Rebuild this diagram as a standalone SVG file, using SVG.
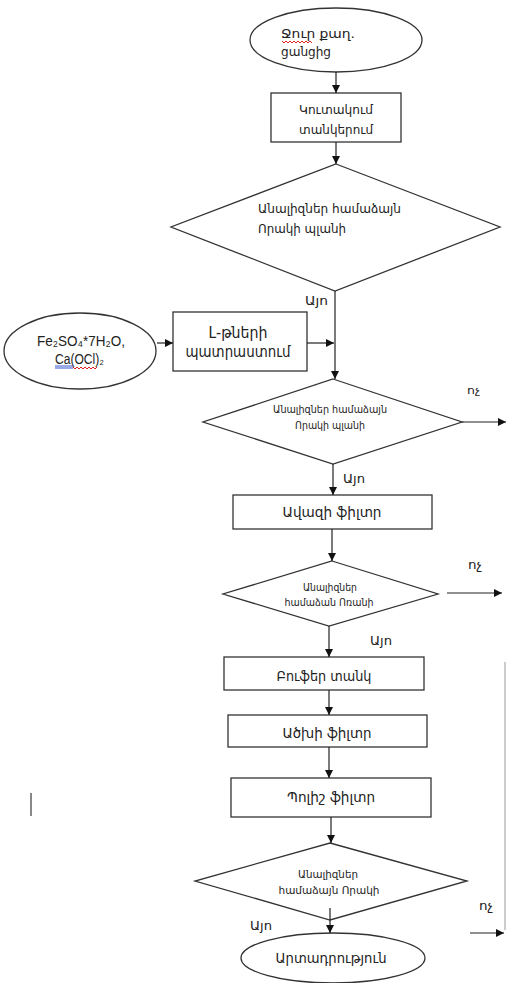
<svg xmlns="http://www.w3.org/2000/svg" width="506" height="983" viewBox="0 0 506 983">
<defs>
<marker id="ah" markerWidth="8" markerHeight="8" refX="8" refY="4" orient="auto" markerUnits="userSpaceOnUse">
<path d="M0,0 L8,4 L0,8 Z" fill="#111"/>
</marker>
<style>
.shape{fill:#fff;stroke:#333;stroke-width:1.3}
.conn{stroke:#222;stroke-width:1.2;fill:none}
.t{font-family:"DejaVu Sans","Noto Sans",sans-serif;fill:#222}
.l{font-family:"Liberation Sans",Arial,sans-serif;fill:#222}
.m{text-anchor:middle}
.sq{fill:none;stroke-width:1}
</style>
</defs>
<rect width="506" height="983" fill="#fff"/>

<g id="n-source">
<ellipse class="shape" cx="336" cy="40" rx="86" ry="32"/>
<text class="t" x="281" y="38" font-size="12.5" textLength="74" lengthAdjust="spacingAndGlyphs">Ջուր քաղ.</text>
<text class="t" x="281" y="56" font-size="12.5" textLength="50" lengthAdjust="spacingAndGlyphs">ցանցից</text>
<path class="sq" stroke="#d22" d="M282,41 l2,2 l2,-2 l2,2 l2,-2 l2,2 l2,-2 l2,2 l2,-2 l2,2 l2,-2 l2,2 l2,-2 l2,2 l2,-2 l2,2"/>
</g>

<g id="n-storage">
<rect class="shape" x="271" y="93" width="130" height="49"/>
<text class="t m" x="336" y="114" font-size="13" textLength="74" lengthAdjust="spacingAndGlyphs">Կուտակում</text>
<text class="t m" x="336" y="134" font-size="13" textLength="74" lengthAdjust="spacingAndGlyphs">տանկերում</text>
</g>

<g id="n-check1">
<polygon class="shape" points="336,164 500,227 335,291 171,227"/>
<text class="t" x="258" y="213" font-size="13" textLength="143" lengthAdjust="spacingAndGlyphs">Անալիզներ համաձայն</text>
<text class="t" x="258" y="233" font-size="13" textLength="88" lengthAdjust="spacingAndGlyphs">Որակի պլանի</text>
</g>

<g id="n-reagents">
<ellipse class="shape" cx="80" cy="351" rx="76" ry="38"/>
<text class="l m" x="81" y="346" font-size="15" textLength="88" lengthAdjust="spacingAndGlyphs">Fe₂SO₄*7H₂O,</text>
<text class="l" x="55" y="364" font-size="14" textLength="49" lengthAdjust="spacingAndGlyphs">Ca(OCl)₂</text>
<path class="sq" stroke="#35c" d="M55,366 H73 M55,368 H73"/>
<path class="sq" stroke="#d22" d="M73,367 l2,2 l2,-2 l2,2 l2,-2 l2,2 l2,-2 l2,2 l2,-2 l2,2 l2,-2 l2,2 l2,-2"/>
</g>

<g id="n-prep">
<rect class="shape" x="173" y="312" width="134" height="59"/>
<text class="t m" x="238" y="338" font-size="15" textLength="59" lengthAdjust="spacingAndGlyphs">Լ-թների</text>
<text class="t m" x="238" y="357" font-size="15" textLength="105" lengthAdjust="spacingAndGlyphs">պատրաստում</text>
</g>

<g id="n-check2">
<polygon class="shape" points="333,379 462,422 333,464 203,422"/>
<text class="t m" x="330" y="413" font-size="10.5" textLength="114" lengthAdjust="spacingAndGlyphs">Անալիզներ համաձայն</text>
<text class="t m" x="330" y="429" font-size="10.5" textLength="70" lengthAdjust="spacingAndGlyphs">Որակի պլանի</text>
</g>

<g id="n-sand">
<rect class="shape" x="233" y="495" width="199" height="34"/>
<text class="t m" x="332" y="517" font-size="14" textLength="99" lengthAdjust="spacingAndGlyphs">Ավազի ֆիլտր</text>
</g>

<g id="n-check3">
<polygon class="shape" points="332,561 438,594 329,626 223,594"/>
<text class="t m" x="330" y="591" font-size="10" textLength="54" lengthAdjust="spacingAndGlyphs">Անալիզներ</text>
<text class="t m" x="329" y="606" font-size="10" textLength="89" lengthAdjust="spacingAndGlyphs">համաձան Ոռանի</text>
</g>

<g id="n-buffer">
<rect class="shape" x="224" y="657" width="200" height="33"/>
<text class="t m" x="324" y="681" font-size="14" textLength="95" lengthAdjust="spacingAndGlyphs">Բուֆեր տանկ</text>
</g>

<g id="n-carbon">
<rect class="shape" x="228" y="715" width="199" height="32"/>
<text class="t m" x="327" y="738" font-size="14" textLength="89" lengthAdjust="spacingAndGlyphs">Ածխի ֆիլտր</text>
</g>

<g id="n-polish">
<rect class="shape" x="231" y="778" width="200" height="39"/>
<text class="t m" x="331" y="802" font-size="14" textLength="88" lengthAdjust="spacingAndGlyphs">Պոլիշ ֆիլտր</text>
</g>

<g id="n-check4">
<polygon class="shape" points="330,843 467,881 330,920 195,881"/>
<text class="t m" x="328" y="878" font-size="11" textLength="60" lengthAdjust="spacingAndGlyphs">Անալիզներ</text>
<text class="t m" x="329" y="894" font-size="11" textLength="101" lengthAdjust="spacingAndGlyphs">համաձայն Որակի</text>
</g>

<g id="n-output">
<ellipse class="shape" cx="333" cy="958" rx="92" ry="25"/>
<text class="t m" x="331" y="963" font-size="14" textLength="111" lengthAdjust="spacingAndGlyphs">Արտադրություն</text>
</g>

<g id="connectors">
<line class="conn" x1="336" y1="72" x2="336" y2="93" marker-end="url(#ah)"/>
<line class="conn" x1="336" y1="142" x2="336" y2="164" marker-end="url(#ah)"/>
<line class="conn" x1="335" y1="291" x2="335" y2="379" marker-end="url(#ah)"/>
<line class="conn" x1="157" y1="343" x2="173" y2="343" marker-end="url(#ah)"/>
<line class="conn" x1="307" y1="343" x2="334" y2="343" marker-end="url(#ah)"/>
<line class="conn" x1="462" y1="422" x2="506" y2="422" marker-end="url(#ah)"/>
<line class="conn" x1="333" y1="464" x2="333" y2="495" marker-end="url(#ah)"/>
<line class="conn" x1="332" y1="529" x2="332" y2="561" marker-end="url(#ah)"/>
<line class="conn" x1="447" y1="593" x2="502" y2="593" marker-end="url(#ah)"/>
<line class="conn" x1="329" y1="626" x2="329" y2="657" marker-end="url(#ah)"/>
<line class="conn" x1="329" y1="690" x2="329" y2="715" marker-end="url(#ah)"/>
<line class="conn" x1="329" y1="747" x2="329" y2="778" marker-end="url(#ah)"/>
<line class="conn" x1="331" y1="817" x2="331" y2="843" marker-end="url(#ah)"/>
<line class="conn" x1="330" y1="908" x2="330" y2="933" marker-end="url(#ah)"/>
<line class="conn" x1="470" y1="933" x2="504" y2="933" marker-end="url(#ah)"/>
<line x1="505" y1="662" x2="505" y2="930" stroke="#999" stroke-width="1"/>
<text class="t" x="305" y="305" font-size="13" textLength="23" lengthAdjust="spacingAndGlyphs">Այո</text>
<text class="t" x="467" y="394" font-size="11" textLength="13" lengthAdjust="spacingAndGlyphs">ոչ</text>
<text class="t" x="343" y="483" font-size="13" textLength="22" lengthAdjust="spacingAndGlyphs">Այո</text>
<text class="t" x="468" y="569" font-size="12" textLength="14" lengthAdjust="spacingAndGlyphs">ոչ</text>
<text class="t" x="370" y="645" font-size="13" textLength="22" lengthAdjust="spacingAndGlyphs">Այո</text>
<text class="t" x="479" y="910" font-size="12" textLength="14" lengthAdjust="spacingAndGlyphs">ոչ</text>
<text class="t" x="250" y="930" font-size="13" textLength="22" lengthAdjust="spacingAndGlyphs">Այո</text>
</g>

<line x1="31" y1="793" x2="31" y2="816" stroke="#111" stroke-width="1"/>
</svg>
